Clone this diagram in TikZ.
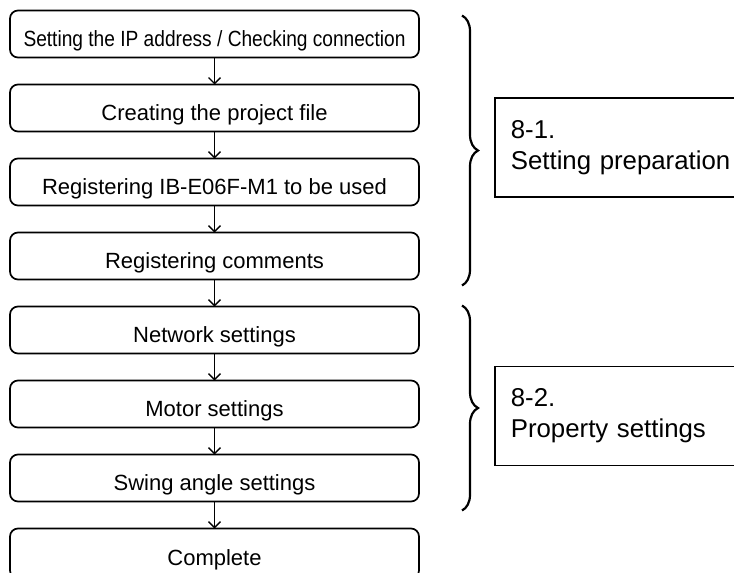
\documentclass[tikz,border=0pt]{standalone}
\usepackage{fontspec}
\setmainfont{Liberation Sans}
\usetikzlibrary{positioning,arrows.meta,calc,decorations.pathreplacing}

\begin{document}
\begin{tikzpicture}[x=1pt, y=1pt, >={Straight Barb[length=6pt,width=12pt]},
  stepbox/.style={draw, line width=1.7pt, rounded corners=8pt, outer sep=0pt,
    minimum width=409pt, minimum height=47pt, text height=24pt, text depth=0pt,
    font=\fontsize{22}{26}\selectfont},
  flow/.style={->, line width=1.4pt},
  brace/.style={decorate, decoration={brace, amplitude=16pt}, line width=2.2pt},
  phasebox/.style={draw, line width=1.7pt, anchor=west, minimum height=99pt,
    text width=240pt, align=left, inner xsep=16pt,
    font=\fontsize{25.8}{31}\selectfont}]
  \useasboundingbox (0,0) rectangle (734,-573);

  \node[stepbox] (ip) at (214.5,-34) {\scalebox{0.87}[1]{Setting the IP address / Checking connection}};
  \node[stepbox, below=27pt of ip] (proj) {Creating the project file};
  \node[stepbox, below=27pt of proj] (reg) {Registering IB-E06F-M1 to be used};
  \node[stepbox, below=27pt of reg] (cmt) {Registering comments};
  \node[stepbox, below=27pt of cmt] (net) {Network settings};
  \node[stepbox, below=27pt of net] (mot) {Motor settings};
  \node[stepbox, below=27pt of mot] (swing) {Swing angle settings};
  \node[stepbox, below=27pt of swing, minimum height=50pt] (done) {Complete};

  \draw[flow] (ip) -- (proj);
  \draw[flow] (proj) -- (reg);
  \draw[flow] (reg) -- (cmt);
  \draw[flow] (cmt) -- (net);
  \draw[flow] (net) -- (mot);
  \draw[flow] (mot) -- (swing);
  \draw[flow] (swing) -- (done);

  % braces for the two phases
  \draw[brace] ([xshift=43pt,yshift=-5pt]ip.north east) -- ([xshift=43pt,yshift=-6pt]cmt.south east);
  \draw[brace] ([xshift=43pt,yshift=1pt]net.north east) -- ([xshift=43pt,yshift=-9pt]swing.south east);

  \node[phasebox] (prep) at (494,-147.5) {8-1.\\Setting preparation};
  \node[phasebox] (prop) at (494,-416) {8-2.\\Property settings};
\end{tikzpicture}
\end{document}
